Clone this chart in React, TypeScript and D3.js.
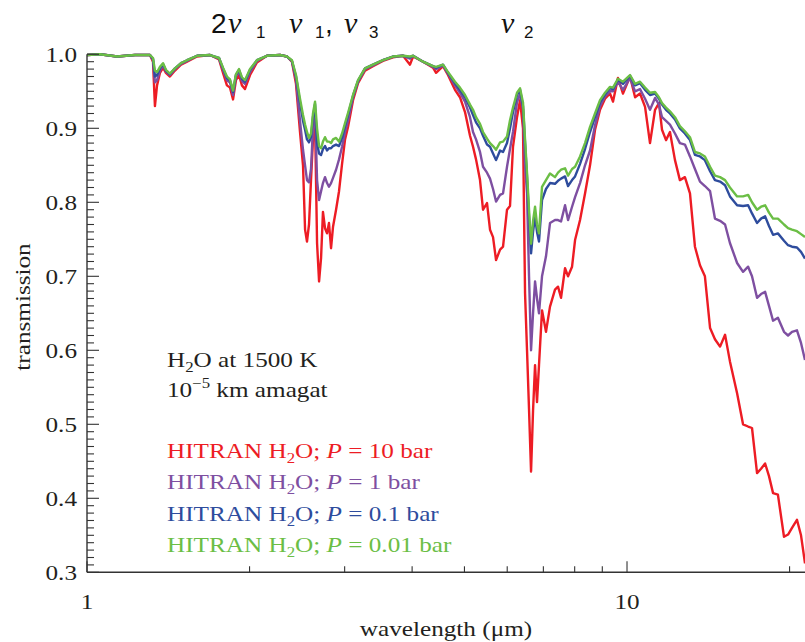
import * as d3 from "d3";

// wavelength grid (µm), shared by all four HITRAN runs
const wavelength = [
  1.0, 1.057, 1.137, 1.227, 1.308, 1.325, 1.336, 1.348, 1.365, 1.383,
  1.4, 1.424, 1.455, 1.493, 1.532, 1.599, 1.69, 1.756, 1.786, 1.816,
  1.84, 1.864, 1.887, 1.912, 1.936, 1.961, 2.004, 2.064, 2.154, 2.277,
  2.346, 2.396, 2.438, 2.48, 2.512, 2.534, 2.555, 2.577, 2.599, 2.621,
  2.644, 2.667, 2.69, 2.713, 2.735, 2.759, 2.783, 2.806, 2.831, 2.855,
  2.892, 2.929, 2.967, 3.005, 3.044, 3.109, 3.176, 3.272, 3.385, 3.532,
  3.687, 3.848, 3.964, 4.016, 4.191, 4.373, 4.43, 4.563, 4.661, 4.802,
  4.905, 5.012, 5.12, 5.186, 5.253, 5.343, 5.412, 5.505, 5.576, 5.648,
  5.721, 5.82, 5.894, 5.995, 6.072, 6.15, 6.256, 6.337, 6.418, 6.474,
  6.529, 6.585, 6.642, 6.699, 6.756, 6.813, 6.871, 6.96, 7.079, 7.201,
  7.356, 7.451, 7.548, 7.678, 7.777, 7.911, 8.013, 8.185, 8.361, 8.541,
  8.725, 8.913, 9.105, 9.301, 9.42, 9.62, 9.83, 10.13, 10.35, 10.57,
  10.8, 11.03, 11.27, 11.46, 11.61, 11.81, 12.01, 12.27, 12.53, 12.8,
  13.08, 13.36, 13.65, 13.94, 14.25, 14.55, 14.87, 15.19, 15.51, 15.99,
  16.4, 16.76, 17.04, 17.41, 17.71, 18.02, 18.32, 18.64, 19.03, 19.53,
  19.87, 20.21, 20.64, 21.0, 21.36,
];

// P = 10 bar
const p10 = [
  0.999, 1.0, 0.997, 0.999, 0.999, 0.99, 0.93, 0.958, 0.975, 0.982,
  0.975, 0.97, 0.978, 0.986, 0.99, 0.997, 0.999, 0.993, 0.975, 0.958,
  0.955, 0.939, 0.965, 0.972, 0.958, 0.953, 0.972, 0.989, 0.998, 0.999,
  0.997, 0.99, 0.96, 0.895, 0.85, 0.763, 0.747, 0.77, 0.83, 0.885,
  0.911, 0.745, 0.693, 0.725, 0.787, 0.765, 0.758, 0.772, 0.738, 0.767,
  0.79, 0.815, 0.852, 0.885, 0.902, 0.938, 0.961, 0.978, 0.984, 0.991,
  0.996, 0.998, 0.986, 0.997, 0.99, 0.982, 0.975, 0.984, 0.972, 0.952,
  0.942, 0.922, 0.89, 0.875, 0.858, 0.83, 0.79, 0.799, 0.763, 0.753,
  0.722, 0.736, 0.74, 0.79, 0.795, 0.875, 0.915, 0.938, 0.9, 0.677,
  0.6, 0.52, 0.436, 0.519, 0.58, 0.53, 0.58, 0.654, 0.625, 0.659,
  0.682, 0.686, 0.671, 0.711, 0.7, 0.713, 0.749, 0.776, 0.812, 0.85,
  0.898, 0.925, 0.94, 0.947, 0.936, 0.968, 0.947, 0.97, 0.942, 0.947,
  0.929, 0.88, 0.925, 0.934, 0.898, 0.884, 0.895, 0.857, 0.83, 0.834,
  0.812, 0.74, 0.715, 0.7, 0.63, 0.615, 0.605, 0.621, 0.585, 0.542,
  0.5, 0.497, 0.495, 0.434, 0.44, 0.447, 0.43, 0.407, 0.405, 0.348,
  0.351, 0.36, 0.371, 0.35, 0.312,
];

// P = 1 bar
const p1 = [
  0.999, 1.0, 0.997, 0.999, 0.999, 0.992, 0.962, 0.965, 0.978, 0.985,
  0.977, 0.972, 0.98, 0.987, 0.991, 0.998, 0.999, 0.994, 0.979, 0.965,
  0.962, 0.945, 0.97, 0.977, 0.964, 0.96, 0.976, 0.991, 0.998, 0.999,
  0.997, 0.991, 0.966, 0.91, 0.871, 0.85, 0.83, 0.827, 0.845, 0.9,
  0.925, 0.83, 0.803, 0.815, 0.826, 0.834, 0.826, 0.821, 0.826, 0.833,
  0.844, 0.858, 0.875, 0.895, 0.911, 0.942, 0.963, 0.98, 0.985, 0.992,
  0.997, 0.998, 0.994, 0.998, 0.99, 0.983, 0.98, 0.985, 0.974, 0.958,
  0.948, 0.936, 0.915, 0.895, 0.885, 0.868, 0.848, 0.84, 0.832, 0.818,
  0.801, 0.81, 0.812, 0.848, 0.872, 0.895, 0.935, 0.947, 0.925, 0.85,
  0.812, 0.7, 0.6, 0.65, 0.693, 0.67, 0.65, 0.7, 0.727, 0.772,
  0.776, 0.776, 0.774, 0.796, 0.776, 0.794, 0.807, 0.826, 0.85, 0.87,
  0.904, 0.93, 0.943, 0.95, 0.95, 0.963, 0.952, 0.968, 0.95, 0.953,
  0.94, 0.925, 0.941, 0.932, 0.915, 0.91, 0.905, 0.893, 0.88, 0.878,
  0.862, 0.845, 0.828, 0.822, 0.815, 0.778, 0.775, 0.77, 0.745, 0.718,
  0.706, 0.713, 0.7, 0.671, 0.676, 0.679, 0.66, 0.64, 0.644, 0.625,
  0.62, 0.625, 0.627, 0.61, 0.587,
];

// P = 0.1 bar
const p01 = [
  0.999, 1.0, 0.997, 0.999, 0.999, 0.994, 0.97, 0.972, 0.981, 0.987,
  0.978, 0.973, 0.981, 0.988, 0.992, 0.998, 0.999, 0.995, 0.981, 0.968,
  0.965, 0.949, 0.972, 0.979, 0.967, 0.963, 0.979, 0.992, 0.998, 0.999,
  0.997, 0.991, 0.97, 0.935, 0.91, 0.898, 0.885, 0.881, 0.888, 0.915,
  0.933, 0.88, 0.866, 0.864, 0.872, 0.876, 0.87, 0.873, 0.873, 0.876,
  0.878, 0.876, 0.887, 0.903, 0.918, 0.944, 0.964, 0.981, 0.986, 0.992,
  0.997, 0.998, 0.996, 0.998, 0.99, 0.984, 0.982, 0.986, 0.975, 0.961,
  0.952, 0.942, 0.928, 0.918, 0.908, 0.9, 0.89, 0.878, 0.875, 0.866,
  0.857, 0.87, 0.868, 0.88, 0.9, 0.922, 0.945, 0.952, 0.93, 0.88,
  0.834, 0.78, 0.731, 0.76, 0.781, 0.76, 0.747, 0.803, 0.818, 0.826,
  0.825, 0.829, 0.832, 0.835, 0.822, 0.83, 0.835, 0.852, 0.872, 0.895,
  0.915, 0.935, 0.946, 0.954, 0.953, 0.966, 0.96, 0.971, 0.958, 0.961,
  0.952, 0.945, 0.947, 0.94, 0.932, 0.925, 0.92, 0.912, 0.9, 0.893,
  0.884, 0.864, 0.862, 0.857, 0.842, 0.83, 0.828, 0.823, 0.808, 0.796,
  0.795, 0.796, 0.785, 0.772, 0.778, 0.781, 0.768, 0.756, 0.758, 0.748,
  0.742, 0.74, 0.739, 0.733, 0.724,
];

// P = 0.01 bar
const p001 = [
  0.999, 1.0, 0.997, 0.999, 0.999, 0.995, 0.978, 0.976, 0.983, 0.988,
  0.979, 0.974, 0.981, 0.988, 0.992, 0.998, 0.999, 0.995, 0.982, 0.97,
  0.966, 0.951, 0.973, 0.98, 0.969, 0.965, 0.98, 0.992, 0.998, 0.999,
  0.997, 0.992, 0.972, 0.94, 0.918, 0.905, 0.895, 0.887, 0.893, 0.92,
  0.936, 0.9, 0.876, 0.873, 0.882, 0.888, 0.882, 0.882, 0.88, 0.885,
  0.887, 0.882, 0.893, 0.907, 0.921, 0.945, 0.965, 0.981, 0.986, 0.992,
  0.997, 0.998, 0.997, 0.998, 0.99, 0.984, 0.983, 0.986, 0.976, 0.963,
  0.955, 0.945, 0.932, 0.925, 0.915, 0.906, 0.895, 0.886, 0.88, 0.876,
  0.871, 0.881, 0.882, 0.889, 0.911, 0.928, 0.948, 0.954, 0.935, 0.885,
  0.84, 0.79, 0.744, 0.775, 0.794, 0.77, 0.758, 0.821, 0.83, 0.839,
  0.834, 0.84, 0.844, 0.846, 0.836, 0.845, 0.848, 0.862, 0.88, 0.902,
  0.92, 0.938, 0.948, 0.956, 0.955, 0.967, 0.963, 0.972, 0.96, 0.963,
  0.955, 0.948, 0.949, 0.942, 0.934, 0.928, 0.923, 0.915, 0.903, 0.896,
  0.888, 0.868, 0.866, 0.862, 0.848, 0.836, 0.834, 0.83, 0.82, 0.808,
  0.808, 0.81, 0.8, 0.79, 0.794, 0.796, 0.786, 0.778, 0.778, 0.77,
  0.765, 0.763, 0.761, 0.757, 0.753,
];

const seriesNames = ["10", "1", "0.1", "0.01"];
const seriesColors = ["#ED1C24", "#7E4FA1", "#2E4C9D", "#6BBE45"];
const seriesValues = [p10, p1, p01, p001];

const yTickLabels = ["0.3", "0.4", "0.5", "0.6", "0.7", "0.8", "0.9", "1.0"];
const xTickLabels = ["1", "10"];
const xMinorTicks = [2, 3, 4, 5, 6, 7, 8, 9, 20];

const INK = "#231F20";
const SERIF = "'Liberation Serif', 'Times New Roman', serif";
const SANS = "'Liberation Sans', Arial, sans-serif";
const SX = 1.2; // the figure's text is a bit wide

export default function App() {
  const width = 805;
  const height = 642;

  const x = d3.scaleLog().domain([1, 21.36]).range([87, 805]);
  const y = d3.scaleLinear().domain([0.3, 1.0]).range([572.3, 54.3]);

  const line = d3
    .line<number>()
    .x((_, i) => x(wavelength[i]))
    .y((d) => y(d));

  const yMinor = d3.range(30, 101).map((v) => v / 100);

  return (
    <svg
      width={width}
      height={height}
      style={{ position: "fixed", left: 0, top: 0, background: "#fff" }}
      fontFamily={SERIF}
    >
      <rect width={width} height={height} fill="#fff" />

      {/* band labels */}
      <g fill="#111" fontFamily={SANS}>
        <text x={211} y={33} fontSize={28}>2</text>
        <text x={228} y={33} fontSize={30} fontStyle="italic" fontFamily={SERIF}>ν</text>
        <text x={256} y={38} fontSize={17}>1</text>
        <text x={289} y={33} fontSize={30} fontStyle="italic" fontFamily={SERIF}>ν</text>
        <text x={315} y={38} fontSize={17}>1</text>
        <text x={325} y={33} fontSize={28}>,</text>
        <text x={344} y={33} fontSize={30} fontStyle="italic" fontFamily={SERIF}>ν</text>
        <text x={369} y={38} fontSize={17}>3</text>
        <text x={501} y={33} fontSize={30} fontStyle="italic" fontFamily={SERIF}>ν</text>
        <text x={524} y={38} fontSize={17}>2</text>
      </g>

      {/* curves */}
      <g fill="none" strokeWidth={2.4} strokeLinejoin="round">
        {seriesValues.map((vals, i) => (
          <path key={i} d={line(vals) ?? ""} stroke={seriesColors[i]} />
        ))}
      </g>

      {/* axes */}
      <g stroke="#333" strokeWidth={1.4}>
        <line x1={87} x2={87} y1={y(1.0)} y2={y(0.3)} />
        <line x1={87} x2={805} y1={y(0.3)} y2={y(0.3)} />
        {yMinor.map((v) => {
          const major = Math.round(v * 100) % 10 === 0;
          return (
            <line key={v} x1={87} x2={87 + (major ? 12 : 7)} y1={y(v)} y2={y(v)} strokeWidth={1.1} />
          );
        })}
        {[1, 10].map((v) => (
          <line key={v} x1={x(v)} x2={x(v)} y1={y(0.3)} y2={y(0.3) - 11} strokeWidth={1.1} />
        ))}
        {xMinorTicks.map((v) => (
          <line key={v} x1={x(v)} x2={x(v)} y1={y(0.3)} y2={y(0.3) - 6} strokeWidth={1.1} />
        ))}
      </g>

      {/* tick labels */}
      <g fill={INK} fontSize={21}>
        {yTickLabels.map((t) => (
          <text key={t} transform={`translate(77,${y(+t) + 7.5}) scale(${SX},1)`} textAnchor="end">
            {t}
          </text>
        ))}
        {xTickLabels.map((t) => (
          <text key={t} transform={`translate(${x(+t)},609) scale(${SX},1)`} textAnchor="middle">
            {t}
          </text>
        ))}
        <text transform={`translate(446,636) scale(${SX},1)`} textAnchor="middle">
          wavelength (μm)
        </text>
        <text transform={`translate(30,307) rotate(-90) scale(${SX},1)`} textAnchor="middle">
          transmission
        </text>
      </g>

      {/* annotation */}
      <g fontSize={21} fill={INK}>
        <text transform={`translate(167,367) scale(${SX},1)`}>
          {"H"}
          <tspan fontSize={14} dy={5}>2</tspan>
          <tspan dy={-5}>{"O at 1500 K"}</tspan>
        </text>
        <text transform={`translate(167,397) scale(${SX},1)`}>
          {"10"}
          <tspan fontSize={14} dy={-9}>−5</tspan>
          <tspan dy={9}>{" km amagat"}</tspan>
        </text>
      </g>

      {/* legend */}
      <g fontSize={21}>
        {seriesNames.map((p, i) => (
          <text
            key={p}
            transform={`translate(167,${458 + i * 31.3}) scale(${SX},1)`}
            fill={seriesColors[i]}
          >
            {"HITRAN H"}
            <tspan fontSize={14} dy={5}>2</tspan>
            <tspan dy={-5}>{"O; "}</tspan>
            <tspan fontStyle="italic">P</tspan>
            {` = ${p} bar`}
          </text>
        ))}
      </g>
    </svg>
  );
}
